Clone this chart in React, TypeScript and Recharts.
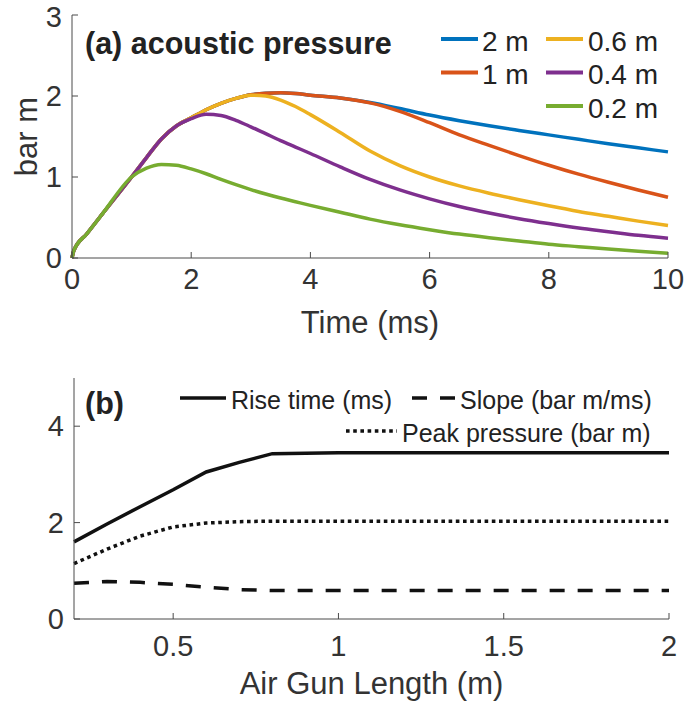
import React from 'react';
import { LineChart, Line, XAxis, YAxis, Legend } from 'recharts';

// ---------- panel (a): acoustic pressure vs time ----------
const timeMs = [0, 0.03, 0.25, 0.5, 1, 1.25, 1.5, 1.75, 2, 2.25, 2.5, 2.75, 3, 3.25, 3.5, 3.75, 4, 4.5, 5, 5.5, 6, 6.5, 7, 7.5, 8, 8.5, 9, 9.5, 10];
const p2m = [0, 0.09, 0.3, 0.535, 1.0, 1.24, 1.47, 1.63, 1.73, 1.83, 1.91, 1.97, 2.015, 2.035, 2.04, 2.03, 2.01, 1.975, 1.92, 1.845, 1.765, 1.695, 1.632, 1.575, 1.52, 1.465, 1.41, 1.36, 1.31];
const p1m = [0, 0.09, 0.3, 0.535, 1.0, 1.24, 1.47, 1.63, 1.73, 1.83, 1.91, 1.97, 2.015, 2.035, 2.04, 2.03, 2.01, 1.975, 1.915, 1.81, 1.67, 1.52, 1.39, 1.265, 1.145, 1.035, 0.935, 0.84, 0.75];
const p06m = [0, 0.09, 0.3, 0.535, 1.0, 1.24, 1.47, 1.63, 1.73, 1.83, 1.91, 1.97, 2.01, 2.0, 1.95, 1.87, 1.77, 1.55, 1.32, 1.14, 1.0, 0.89, 0.8, 0.72, 0.645, 0.575, 0.515, 0.455, 0.4];
const p04m = [0, 0.09, 0.3, 0.535, 1.0, 1.24, 1.47, 1.63, 1.72, 1.775, 1.76, 1.7, 1.62, 1.535, 1.45, 1.37, 1.29, 1.125, 0.97, 0.84, 0.73, 0.635, 0.555, 0.485, 0.425, 0.37, 0.325, 0.28, 0.245];
const p02m = [0, 0.09, 0.3, 0.535, 1.0, 1.11, 1.155, 1.145, 1.1, 1.04, 0.97, 0.905, 0.845, 0.79, 0.74, 0.695, 0.65, 0.565, 0.48, 0.41, 0.35, 0.295, 0.25, 0.21, 0.17, 0.14, 0.11, 0.083, 0.058];
const timeTicks = [0, 2, 4, 6, 8, 10];
const pressureTicks = [0, 1, 2, 3];

const seriesA = [
  { key: 'p2m', name: '2 m', values: p2m, color: '#0072BD' },
  { key: 'p1m', name: '1 m', values: p1m, color: '#D95319' },
  { key: 'p06m', name: '0.6 m', values: p06m, color: '#EDB120' },
  { key: 'p04m', name: '0.4 m', values: p04m, color: '#7E2F8E' },
  { key: 'p02m', name: '0.2 m', values: p02m, color: '#77AC30' },
];

// ---------- panel (b): vs air gun length ----------
const gunLength = [0.2, 0.3, 0.4, 0.5, 0.6, 0.7, 0.8, 1.0, 1.2, 1.4, 1.6, 1.8, 2.0];
const riseTime = [1.6, 1.97, 2.33, 2.68, 3.05, 3.25, 3.43, 3.45, 3.45, 3.45, 3.45, 3.45, 3.45];
const slope = [0.74, 0.78, 0.76, 0.72, 0.66, 0.61, 0.59, 0.59, 0.59, 0.59, 0.59, 0.59, 0.59];
const peakPressure = [1.15, 1.45, 1.72, 1.91, 1.99, 2.02, 2.03, 2.03, 2.03, 2.03, 2.03, 2.03, 2.03];
const lengthTicks = [0.5, 1, 1.5, 2];
const bTicks = [0, 2, 4];

const seriesB = [
  { key: 'rise', name: 'Rise time (ms)', values: riseTime, dash: undefined as string | undefined },
  { key: 'slope', name: 'Slope (bar m/ms)', values: slope, dash: '15 13' },
  { key: 'peak', name: 'Peak pressure (bar m)', values: peakPressure, dash: '3.6 3.6' },
];

const dataA = timeMs.map((t, i) => {
  const row: Record<string, number> = { t };
  seriesA.forEach((s) => (row[s.key] = s.values[i]));
  return row;
});
const dataB = gunLength.map((L, i) => {
  const row: Record<string, number> = { L };
  seriesB.forEach((s) => (row[s.key] = s.values[i]));
  return row;
});

const FONT = 'Liberation Sans, Arial, Helvetica, sans-serif';
const AX = '#4a4a4a';
const TXT = '#333333';
const tickStyle = { fontSize: 29, fill: TXT, fontFamily: FONT };

const W = 685;
const HA = 345;
const HB = 361;

const LegendA = () => {
  const cols = [
    { lx: 441, tx: 482, items: [0, 1] },
    { lx: 546, tx: 588, items: [2, 3, 4] },
  ];
  const rowY = [39, 72.5, 106];
  return (
    <svg width={W} height={HA} style={{ display: 'block', pointerEvents: 'none' }}>
      <text x={85} y={54} fontFamily={FONT} fontSize={30.5} fontWeight="bold" fill="#222">(a) acoustic pressure</text>
      {cols.map((c) =>
        c.items.map((idx, r) => (
          <g key={idx}>
            <line x1={c.lx} x2={c.lx + 37} y1={rowY[r]} y2={rowY[r]} stroke={seriesA[idx].color} strokeWidth={4} />
            <text x={c.tx} y={rowY[r] + 2} dominantBaseline="central" fontFamily={FONT} fontSize={28} fill="#222">
              {seriesA[idx].name}
            </text>
          </g>
        ))
      )}
    </svg>
  );
};

const LegendB = () => {
  const items = [
    { idx: 0, lx: 180, tx: 231, y: 398 },
    { idx: 1, lx: 412, tx: 460, y: 398 },
    { idx: 2, lx: 346, tx: 402, y: 431 },
  ];
  return (
    <svg width={W} height={HB} style={{ display: 'block', pointerEvents: 'none' }}>
      <text x={85} y={414 - HA} fontFamily={FONT} fontSize={30.5} fontWeight="bold" fill="#222">(b)</text>
      {items.map((it) => (
        <g key={it.idx}>
          <line
            x1={it.lx}
            x2={it.tx - 5}
            y1={it.y - HA}
            y2={it.y - HA}
            stroke="#111"
            strokeWidth={3.5}
            strokeDasharray={seriesB[it.idx].dash}
          />
          <text x={it.tx} y={it.y - HA + 2} dominantBaseline="central" fontFamily={FONT} fontSize={25} fill="#222">
            {seriesB[it.idx].name}
          </text>
        </g>
      ))}
    </svg>
  );
};

export default function App() {
  return (
    <div style={{ position: 'absolute', left: 0, top: 0, width: W, height: 706, background: '#fff' }}>
      <LineChart width={W} height={HA} data={dataA} margin={{ top: 15, right: 17, left: 0, bottom: 0 }}>
        <XAxis
          dataKey="t"
          type="number"
          domain={[0, 10]}
          ticks={timeTicks}
          height={HA - 258}
          tickSize={-6}
          tickMargin={16}
          stroke={AX}
          tick={tickStyle}
          label={{ value: 'Time (ms)', position: 'insideBottom', offset: 12, style: { fontSize: 31, fill: TXT, fontFamily: FONT } }}
        />
        <XAxis xAxisId="top" orientation="top" type="number" domain={[0, 10]} ticks={timeTicks} height={0} tickSize={-6} tick={false} stroke={AX} />
        <YAxis
          type="number"
          domain={[0, 3]}
          ticks={pressureTicks}
          width={72}
          tickSize={-6}
          tickMargin={16}
          stroke={AX}
          tick={tickStyle}
          label={{ value: 'bar m', angle: -90, position: 'insideLeft', offset: 26, style: { fontSize: 31, fill: TXT, fontFamily: FONT, textAnchor: 'middle' } }}
        />
        <YAxis yAxisId="right" orientation="right" type="number" domain={[0, 3]} ticks={pressureTicks} width={0} tickSize={-6} tick={false} stroke={AX} />
        {seriesA.map((s) => (
          <Line key={s.key} dataKey={s.key} name={s.name} type="monotone" stroke={s.color} strokeWidth={3.5} dot={false} isAnimationActive={false} />
        ))}
        <Legend
          verticalAlign="middle"
          align="center"
          layout="horizontal"
          wrapperStyle={{ left: 0, top: 0, width: W, height: HA }}
          content={() => <LegendA />}
        />
      </LineChart>
      <LineChart width={W} height={HB} data={dataB} margin={{ top: 378 - HA, right: 16, left: 0, bottom: 0 }}>
        <XAxis
          dataKey="L"
          type="number"
          domain={[0.2, 2]}
          ticks={lengthTicks}
          height={706 - 619}
          tickSize={-6}
          tickMargin={22}
          stroke={AX}
          tick={tickStyle}
          label={{ value: 'Air Gun Length (m)', position: 'insideBottom', offset: 12, style: { fontSize: 31, fill: TXT, fontFamily: FONT } }}
        />
        <XAxis xAxisId="top" orientation="top" type="number" domain={[0.2, 2]} ticks={lengthTicks} height={0} tickSize={-6} tick={false} stroke={AX} />
        <YAxis type="number" domain={[0, 5]} ticks={bTicks} width={74} tickSize={-6} tickMargin={16} stroke={AX} tick={tickStyle} />
        <YAxis yAxisId="right" orientation="right" type="number" domain={[0, 5]} ticks={bTicks} width={0} tickSize={-6} tick={false} stroke={AX} />
        {seriesB.map((s) => (
          <Line
            key={s.key}
            dataKey={s.key}
            name={s.name}
            type="linear"
            stroke="#111"
            strokeWidth={3.5}
            strokeDasharray={s.dash}
            dot={false}
            isAnimationActive={false}
          />
        ))}
        <Legend
          verticalAlign="middle"
          align="center"
          layout="horizontal"
          wrapperStyle={{ left: 0, top: 0, width: W, height: HB }}
          content={() => <LegendB />}
        />
      </LineChart>
    </div>
  );
}
